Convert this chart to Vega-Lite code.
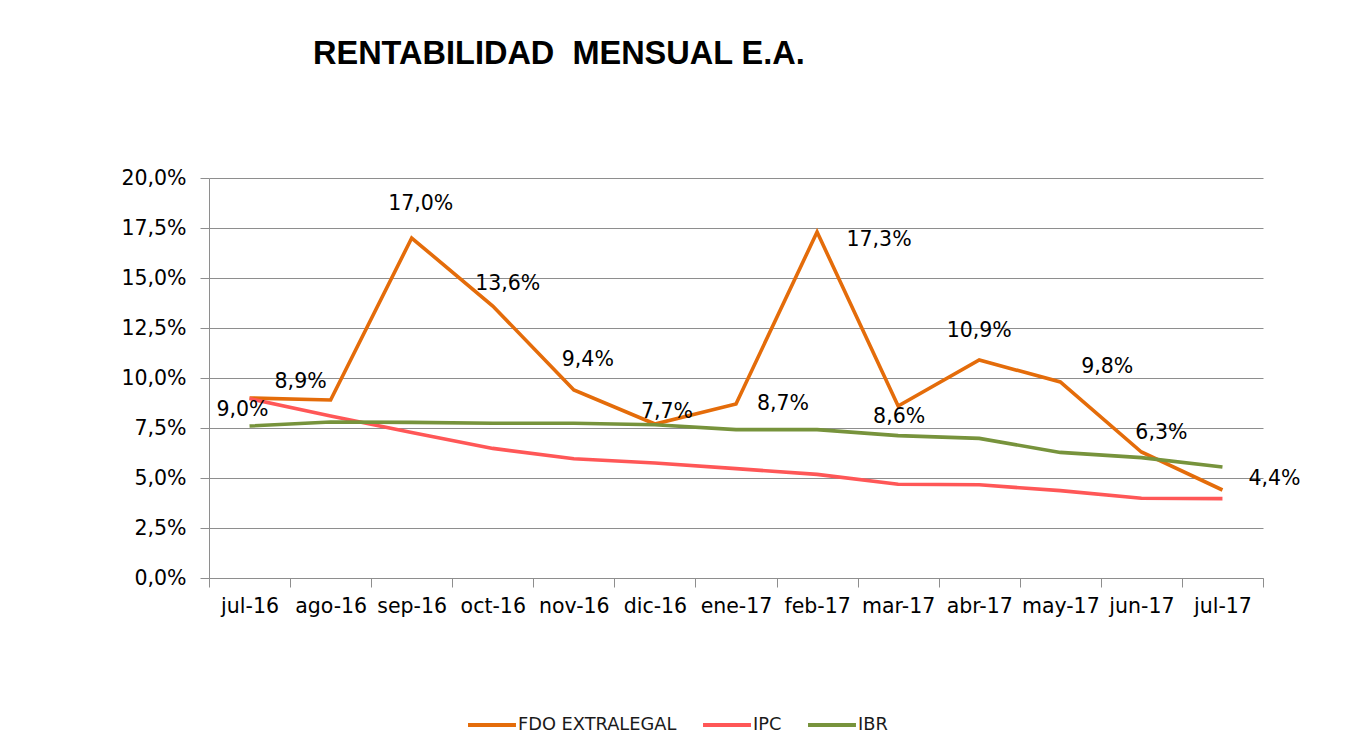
{
  "$schema": "https://vega.github.io/schema/vega-lite/v6.json",
  "autosize": {"type": "none"},
  "width": 1054,
  "height": 400,
  "padding": {"left": 209, "top": 178, "right": 96, "bottom": 173},
  "background": "#ffffff",
  "title": {
    "text": "RENTABILIDAD\u00a0 MENSUAL E.A.",
    "anchor": "start",
    "frame": "group",
    "font": "Liberation Sans",
    "fontSize": 32.5,
    "fontWeight": "bold",
    "color": "#000000",
    "baseline": "alphabetic",
    "dx": 104,
    "offset": 72
  },
  "config": {
    "view": {"stroke": null},
    "font": "DejaVu Sans",
    "locale": {"number": {"decimal": ",", "thousands": ".", "grouping": [3], "currency": ["$", ""]}}
  },
  "data": {
    "values": [
      {"mes": "jul-16", "serie": "FDO EXTRALEGAL", "valor": 0.090},
      {"mes": "ago-16", "serie": "FDO EXTRALEGAL", "valor": 0.089},
      {"mes": "sep-16", "serie": "FDO EXTRALEGAL", "valor": 0.170},
      {"mes": "oct-16", "serie": "FDO EXTRALEGAL", "valor": 0.136},
      {"mes": "nov-16", "serie": "FDO EXTRALEGAL", "valor": 0.094},
      {"mes": "dic-16", "serie": "FDO EXTRALEGAL", "valor": 0.077},
      {"mes": "ene-17", "serie": "FDO EXTRALEGAL", "valor": 0.087},
      {"mes": "feb-17", "serie": "FDO EXTRALEGAL", "valor": 0.173},
      {"mes": "mar-17", "serie": "FDO EXTRALEGAL", "valor": 0.086},
      {"mes": "abr-17", "serie": "FDO EXTRALEGAL", "valor": 0.109},
      {"mes": "may-17", "serie": "FDO EXTRALEGAL", "valor": 0.098},
      {"mes": "jun-17", "serie": "FDO EXTRALEGAL", "valor": 0.063},
      {"mes": "jul-17", "serie": "FDO EXTRALEGAL", "valor": 0.044},
      {"mes": "jul-16", "serie": "IPC", "valor": 0.0897},
      {"mes": "ago-16", "serie": "IPC", "valor": 0.0810},
      {"mes": "sep-16", "serie": "IPC", "valor": 0.0727},
      {"mes": "oct-16", "serie": "IPC", "valor": 0.0648},
      {"mes": "nov-16", "serie": "IPC", "valor": 0.0596},
      {"mes": "dic-16", "serie": "IPC", "valor": 0.0575},
      {"mes": "ene-17", "serie": "IPC", "valor": 0.0547},
      {"mes": "feb-17", "serie": "IPC", "valor": 0.0518},
      {"mes": "mar-17", "serie": "IPC", "valor": 0.0469},
      {"mes": "abr-17", "serie": "IPC", "valor": 0.0466},
      {"mes": "may-17", "serie": "IPC", "valor": 0.0437},
      {"mes": "jun-17", "serie": "IPC", "valor": 0.0399},
      {"mes": "jul-17", "serie": "IPC", "valor": 0.0397},
      {"mes": "jul-16", "serie": "IBR", "valor": 0.0760},
      {"mes": "ago-16", "serie": "IBR", "valor": 0.0780},
      {"mes": "sep-16", "serie": "IBR", "valor": 0.0778},
      {"mes": "oct-16", "serie": "IBR", "valor": 0.0774},
      {"mes": "nov-16", "serie": "IBR", "valor": 0.0774},
      {"mes": "dic-16", "serie": "IBR", "valor": 0.0766},
      {"mes": "ene-17", "serie": "IBR", "valor": 0.0742},
      {"mes": "feb-17", "serie": "IBR", "valor": 0.0742},
      {"mes": "mar-17", "serie": "IBR", "valor": 0.0712},
      {"mes": "abr-17", "serie": "IBR", "valor": 0.0698},
      {"mes": "may-17", "serie": "IBR", "valor": 0.0628},
      {"mes": "jun-17", "serie": "IBR", "valor": 0.0602},
      {"mes": "jul-17", "serie": "IBR", "valor": 0.0555}
    ]
  },
  "encoding": {
    "x": {
      "field": "mes",
      "type": "ordinal",
      "sort": ["jul-16", "ago-16", "sep-16", "oct-16", "nov-16", "dic-16", "ene-17", "feb-17", "mar-17", "abr-17", "may-17", "jun-17", "jul-17"],
      "scale": {"type": "band", "paddingInner": 0, "paddingOuter": 0},
      "axis": {
        "title": null,
        "labelAngle": 0,
        "labelFont": "DejaVu Sans",
        "labelFontSize": 20.5,
        "labelColor": "#000000",
        "labelPadding": 9,
        "tickBand": "extent",
        "tickSize": 9,
        "tickColor": "#8E8E8E",
        "domainColor": "#8E8E8E",
        "grid": false
      }
    },
    "y": {
      "field": "valor",
      "type": "quantitative",
      "scale": {"domain": [0, 0.2], "nice": false, "zero": true},
      "axis": {
        "title": null,
        "values": [0, 0.025, 0.05, 0.075, 0.1, 0.125, 0.15, 0.175, 0.2],
        "format": ".1%",
        "labelFont": "DejaVu Sans",
        "labelFontSize": 20.5,
        "labelColor": "#000000",
        "labelPadding": 14,
        "tickSize": 9,
        "tickColor": "#8E8E8E",
        "domainColor": "#8E8E8E",
        "grid": true,
        "gridColor": "#8E8E8E",
        "gridWidth": 1
      }
    }
  },
  "layer": [
    {
      "mark": {"type": "line", "strokeWidth": 3.6, "strokeJoin": "miter"},
      "encoding": {
        "color": {
          "field": "serie",
          "type": "nominal",
          "scale": {"domain": ["FDO EXTRALEGAL", "IPC", "IBR"], "range": ["#E46C0A", "#FF5757", "#77933C"]},
          "legend": {
            "title": null,
            "orient": "none",
            "direction": "horizontal",
            "legendX": 257,
            "legendY": 521,
            "symbolType": "stroke",
            "symbolSize": 2300,
            "symbolStrokeWidth": 4,
            "labelFont": "DejaVu Sans",
            "labelFontSize": 17.8,
            "labelLimit": 400,
            "labelColor": "#1a1a1a",
            "labelOffset": 0,
            "columnPadding": 18
          }
        }
      }
    },
    {"transform": [{"filter": "datum.serie == 'FDO EXTRALEGAL' && datum.mes == 'jul-16'"}], "mark": {"type": "text", "dx": -7, "dy": 12, "baseline": "middle", "font": "DejaVu Sans", "fontSize": 20.5, "color": "#000000"}, "encoding": {"text": {"field": "valor", "type": "quantitative", "format": ".1%"}}},
    {"transform": [{"filter": "datum.serie == 'FDO EXTRALEGAL' && datum.mes == 'ago-16'"}], "mark": {"type": "text", "dx": -30, "dy": -18, "baseline": "middle", "font": "DejaVu Sans", "fontSize": 20.5, "color": "#000000"}, "encoding": {"text": {"field": "valor", "type": "quantitative", "format": ".1%"}}},
    {"transform": [{"filter": "datum.serie == 'FDO EXTRALEGAL' && datum.mes == 'sep-16'"}], "mark": {"type": "text", "dx": 9, "dy": -34, "baseline": "middle", "font": "DejaVu Sans", "fontSize": 20.5, "color": "#000000"}, "encoding": {"text": {"field": "valor", "type": "quantitative", "format": ".1%"}}},
    {"transform": [{"filter": "datum.serie == 'FDO EXTRALEGAL' && datum.mes == 'oct-16'"}], "mark": {"type": "text", "dx": 15, "dy": -22, "baseline": "middle", "font": "DejaVu Sans", "fontSize": 20.5, "color": "#000000"}, "encoding": {"text": {"field": "valor", "type": "quantitative", "format": ".1%"}}},
    {"transform": [{"filter": "datum.serie == 'FDO EXTRALEGAL' && datum.mes == 'nov-16'"}], "mark": {"type": "text", "dx": 14, "dy": -30, "baseline": "middle", "font": "DejaVu Sans", "fontSize": 20.5, "color": "#000000"}, "encoding": {"text": {"field": "valor", "type": "quantitative", "format": ".1%"}}},
    {"transform": [{"filter": "datum.serie == 'FDO EXTRALEGAL' && datum.mes == 'dic-16'"}], "mark": {"type": "text", "dx": 12, "dy": -12, "baseline": "middle", "font": "DejaVu Sans", "fontSize": 20.5, "color": "#000000"}, "encoding": {"text": {"field": "valor", "type": "quantitative", "format": ".1%"}}},
    {"transform": [{"filter": "datum.serie == 'FDO EXTRALEGAL' && datum.mes == 'ene-17'"}], "mark": {"type": "text", "dx": 47, "dy": 0, "baseline": "middle", "font": "DejaVu Sans", "fontSize": 20.5, "color": "#000000"}, "encoding": {"text": {"field": "valor", "type": "quantitative", "format": ".1%"}}},
    {"transform": [{"filter": "datum.serie == 'FDO EXTRALEGAL' && datum.mes == 'feb-17'"}], "mark": {"type": "text", "dx": 62, "dy": 8, "baseline": "middle", "font": "DejaVu Sans", "fontSize": 20.5, "color": "#000000"}, "encoding": {"text": {"field": "valor", "type": "quantitative", "format": ".1%"}}},
    {"transform": [{"filter": "datum.serie == 'FDO EXTRALEGAL' && datum.mes == 'mar-17'"}], "mark": {"type": "text", "dx": 1, "dy": 11, "baseline": "middle", "font": "DejaVu Sans", "fontSize": 20.5, "color": "#000000"}, "encoding": {"text": {"field": "valor", "type": "quantitative", "format": ".1%"}}},
    {"transform": [{"filter": "datum.serie == 'FDO EXTRALEGAL' && datum.mes == 'abr-17'"}], "mark": {"type": "text", "dx": 0, "dy": -29, "baseline": "middle", "font": "DejaVu Sans", "fontSize": 20.5, "color": "#000000"}, "encoding": {"text": {"field": "valor", "type": "quantitative", "format": ".1%"}}},
    {"transform": [{"filter": "datum.serie == 'FDO EXTRALEGAL' && datum.mes == 'may-17'"}], "mark": {"type": "text", "dx": 47, "dy": -15, "baseline": "middle", "font": "DejaVu Sans", "fontSize": 20.5, "color": "#000000"}, "encoding": {"text": {"field": "valor", "type": "quantitative", "format": ".1%"}}},
    {"transform": [{"filter": "datum.serie == 'FDO EXTRALEGAL' && datum.mes == 'jun-17'"}], "mark": {"type": "text", "dx": 20, "dy": -19, "baseline": "middle", "font": "DejaVu Sans", "fontSize": 20.5, "color": "#000000"}, "encoding": {"text": {"field": "valor", "type": "quantitative", "format": ".1%"}}},
    {"transform": [{"filter": "datum.serie == 'FDO EXTRALEGAL' && datum.mes == 'jul-17'"}], "mark": {"type": "text", "dx": 52, "dy": -11, "baseline": "middle", "font": "DejaVu Sans", "fontSize": 20.5, "color": "#000000"}, "encoding": {"text": {"field": "valor", "type": "quantitative", "format": ".1%"}}}
  ]
}
